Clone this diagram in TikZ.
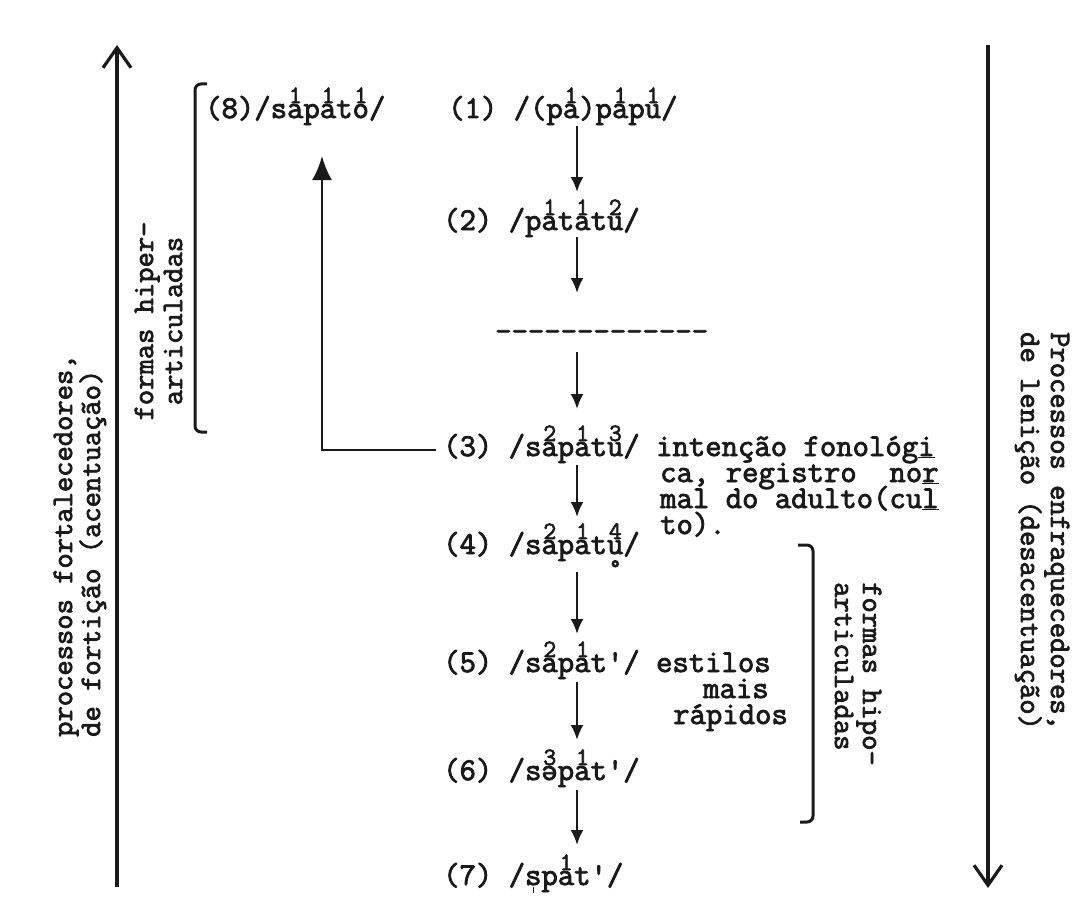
\documentclass[tikz,border=0pt]{standalone}
\usepackage{fontspec}
\setmonofont{Latin Modern Mono}[FakeBold=2.6]
\usetikzlibrary{arrows.meta}
\definecolor{ink}{HTML}{1A1A1A}
\newcommand\tw{\fontsize{31.8}{26}\selectfont\ttfamily}
\newcommand\twr{\fontsize{29.7}{29}\selectfont\ttfamily}
% digit above a letter
\newcommand\sd[2]{\leavevmode\rlap{\makebox[0.525em][c]{\raisebox{0.47em}{\fontsize{25}{25}\selectfont #1}}}#2}
% ring below u
\newcommand\ringu{\leavevmode\rlap{\makebox[0.525em][c]{\raisebox{-0.66em}{\fontsize{24}{24}\selectfont °}}}u}
% syllabic mark below a letter
\newcommand\sylm[1]{\leavevmode\rlap{\makebox[0.525em][c]{\rule[-0.24em]{1.8pt}{0.17em}}}#1}
\begin{document}
\begin{tikzpicture}[x=1pt,y=-1pt,
  tx/.style={font=\tw, inner sep=0pt, anchor=base west, text=ink},
  rx/.style={font=\twr, inner sep=0pt, text=ink},
  arr/.style={draw=ink, line width=2.3pt, -{Latex[length=15pt,width=13pt]}},
  uparr/.style={draw=ink, line width=2.6pt, -{Latex[length=24pt,width=20pt]}},
  big/.style={draw=ink, line width=3.2pt, -{Straight Barb[length=20pt,width=28pt]}},
  br/.style={draw=ink, line width=3pt, rounded corners=6pt}]
\useasboundingbox[fill=white] (0,0) rectangle (1084,915);

% central column
\node[tx] (r8) at (205,118) {(8)/s\sd{1}{a}p\sd{1}{a}t\sd{1}{o}/};
\node[tx] (r1) at (448,118) {(1) /(p\sd{1}{a})p\sd{1}{a}p\sd{1}{u}/};
\node[tx] (r2) at (443,230) {(2) /p\sd{1}{a}t\sd{1}{a}t\sd{2}{u}/};
\node[tx] (dl) at (495,341) {-------------};
\node[tx] (r3) at (443,456) {(3) /s\sd{2}{a}p\sd{1}{a}t\sd{3}{u}/ intenção fonológ\underline{i}};
\node[tx] (c1) at (660,482) {ca,~registro~~no\underline{r}};
\node[tx] (c2) at (660,508) {mal do adulto(cu\underline{l}};
\node[tx] (c3) at (660,534) {to).};
\node[tx] (r4) at (443,554) {(4) /s\sd{2}{a}p\sd{1}{a}t\sd{4}{\ringu}/};
\node[tx] (r5) at (443,672) {(5) /s\sd{2}{a}p\sd{1}{a}t'/ estilos};
\node[tx] (m1) at (703,698) {mais};
\node[tx] (m2) at (673,724) {rápidos};
\node[tx] (r6) at (443,780) {(6) /s\sd{3}{ə}p\sd{1}{a}t'/};
\node[tx] (r7) at (443,885) {(7) /\sylm{s}p\sd{1}{a}t'/};

\coordinate (ax) at (577,0);
\draw[arr] ([yshift=-8pt]r1.base -| ax) -- ([yshift=38pt]r2.base -| ax);
\draw[arr] ([yshift=-7pt]r2.base -| ax) -- ([yshift=48pt]dl.base -| ax);
\draw[arr] ([yshift=-11pt]dl.base -| ax) -- ([yshift=47pt]r3.base -| ax);
\draw[arr] ([yshift=-9pt]r3.base -| ax) -- ([yshift=37pt]r4.base -| ax);
\draw[arr] ([yshift=-18pt]r4.base -| ax) -- ([yshift=38pt]r5.base -| ax);
\draw[arr] ([yshift=-10pt]r5.base -| ax) -- ([yshift=40pt]r6.base -| ax);
\draw[arr] ([yshift=-10pt]r6.base -| ax) -- ([yshift=40pt]r7.base -| ax);

% return arrow from (3) up to (8)
\coordinate (cn) at (322,450);
\coordinate (up) at ([yshift=-38pt]r8.base);
\draw[uparr] ([xshift=-7pt]r3.west |- cn) -- (cn) -- (cn |- up);

% left side
\coordinate (la0) at (117,887);
\coordinate (la1) at (117,45);
\draw[big] (la0) -- (la1);
\node[rx, rotate=90, anchor=base west] (lt1) at (72,737) {processos fortalecedores,};
\node[rx, rotate=90, anchor=base west] (lt2) at (100,737) {de fortição (acentuação)};
\node[rx, rotate=90, anchor=base] (h1) at (153,321) {formas hiper-};
\node[rx, rotate=90, anchor=base] (h2) at (182,321) {articuladas};
\draw[br] (207,84) -- (195,84) -- (195,432) -- (207,432);

% right side
\coordinate (ra0) at (988,45);
\coordinate (ra1) at (988,888);
\draw[big] (ra0) -- (ra1);
\node[rx, rotate=-90, anchor=base west] (rt1) at (1051,332) {Processos enfraquecedores,};
\node[rx, rotate=-90, anchor=base west] (rt2) at (1021,332) {de lenição (desacentuação)};
\node[rx, rotate=-90, anchor=base west] (p1) at (863,582) {formas hipo-};
\node[rx, rotate=-90, anchor=base west] (p2) at (835,582) {articuladas};
\draw[br] (798,545) -- (813,545) -- (813,822) -- (800,822);
\end{tikzpicture}
\end{document}
